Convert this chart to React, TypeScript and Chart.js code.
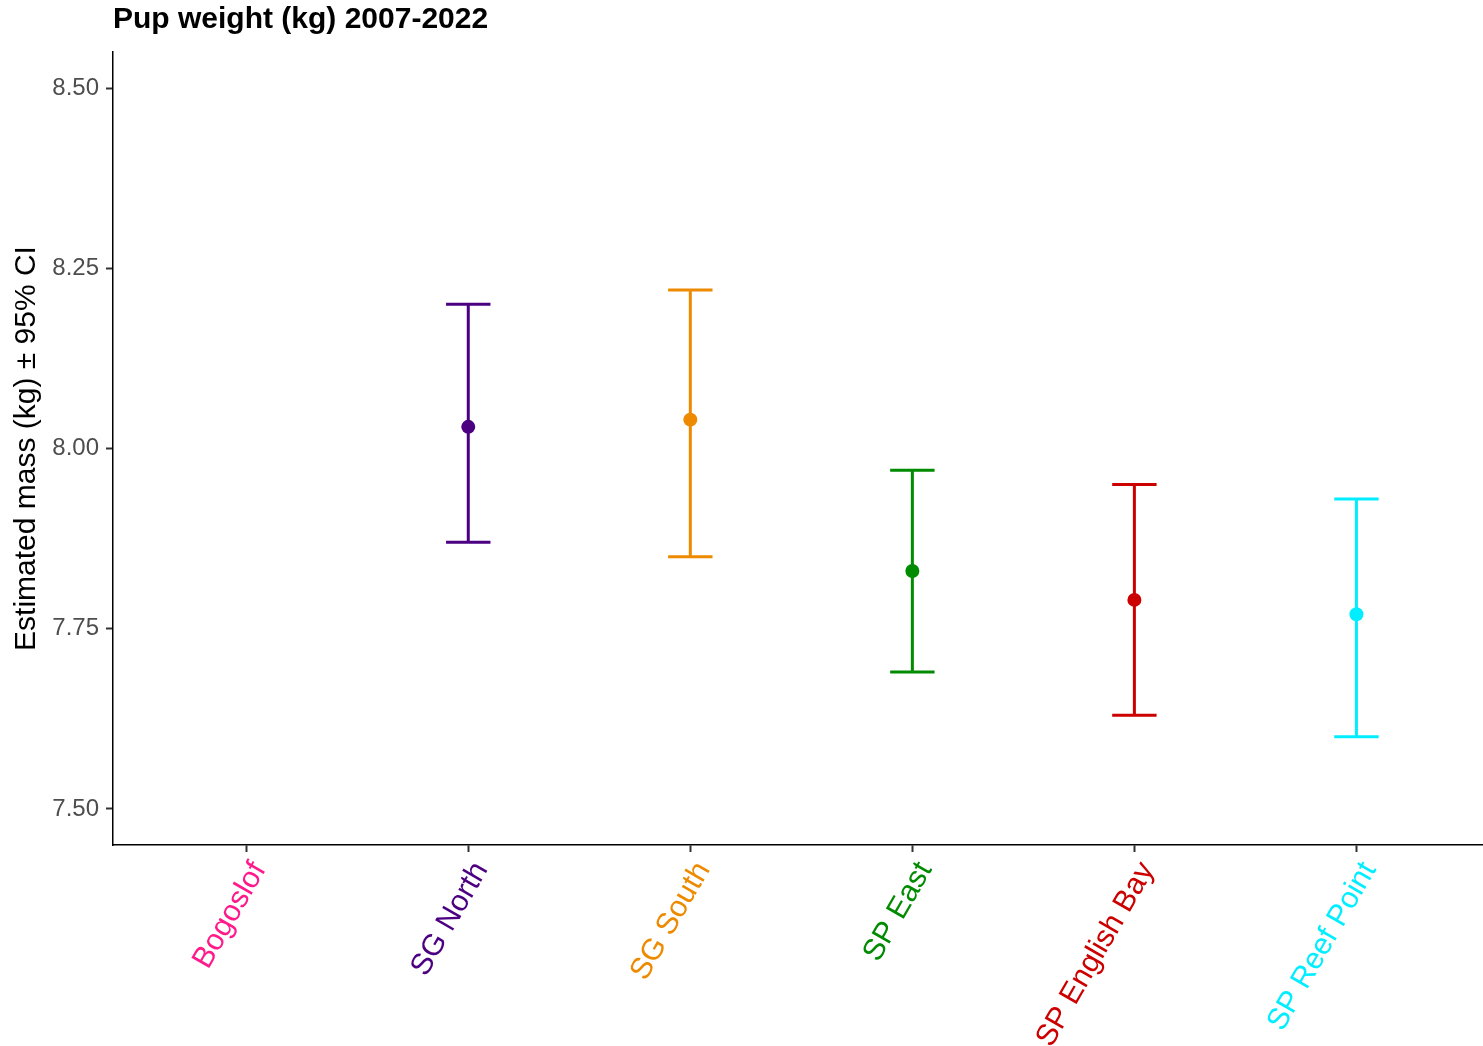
import React, { useEffect, useRef } from "react";
import { Chart, registerables } from "chart.js";

Chart.register(...registerables);

// Rookery sites along the x axis
const sites = ["Bogoslof", "SG North", "SG South", "SP East", "SP English Bay", "SP Reef Point"];
// Estimated mean pup mass (kg); Bogoslof has no estimate
const meanMass: (number | null)[] = [null, 8.03, 8.04, 7.83, 7.79, 7.77];
// 95% confidence limits (kg)
const lowerCI: (number | null)[] = [null, 7.87, 7.85, 7.69, 7.63, 7.6];
const upperCI: (number | null)[] = [null, 8.2, 8.22, 7.97, 7.95, 7.93];
// One colour per site, used for marks and tick labels
const siteColors = ["#FF1A8C", "#4B0082", "#EE8A00", "#008B00", "#CD0000", "#00EEFF"];
// Y axis tick values
const yTicks = [7.5, 7.75, 8.0, 8.25, 8.5];

const FONT = "'Liberation Sans', Arial, Helvetica, sans-serif";

const errorBarPlugin = {
  id: "errorBars",
  beforeDatasetsDraw(chart: any) {
    const { ctx, scales } = chart;
    const xs = scales.x;
    const ys = scales.y;
    ctx.save();
    ctx.lineWidth = 3;
    for (let i = 0; i < sites.length; i++) {
      const lo = lowerCI[i];
      const hi = upperCI[i];
      if (lo == null || hi == null) continue;
      const x = xs.getPixelForValue(i);
      const yLo = ys.getPixelForValue(lo);
      const yHi = ys.getPixelForValue(hi);
      const half = xs.getPixelForValue(i + 0.1) - x;
      ctx.strokeStyle = siteColors[i];
      ctx.beginPath();
      ctx.moveTo(x, yLo);
      ctx.lineTo(x, yHi);
      ctx.moveTo(x - half, yLo);
      ctx.lineTo(x + half, yLo);
      ctx.moveTo(x - half, yHi);
      ctx.lineTo(x + half, yHi);
      ctx.stroke();
    }
    ctx.restore();
  },
};

export default function App() {
  const canvasRef = useRef<HTMLCanvasElement | null>(null);

  useEffect(() => {
    const canvas = canvasRef.current;
    if (!canvas) return;

    const points: { x: number; y: number }[] = [];
    const pointColors: string[] = [];
    meanMass.forEach((m, i) => {
      if (m != null) {
        points.push({ x: i, y: m });
        pointColors.push(siteColors[i]);
      }
    });

    const chart = new Chart(canvas, {
      type: "scatter",
      data: {
        datasets: [
          {
            data: points,
            pointRadius: 7,
            pointHoverRadius: 7,
            pointBackgroundColor: pointColors,
            pointBorderWidth: 0,
            pointBorderColor: pointColors,
          },
        ],
      },
      options: {
        responsive: false,
        animation: false,
        layout: { padding: 0, autoPadding: false },
        plugins: {
          legend: { display: false },
          tooltip: { enabled: false },
          title: {
            display: true,
            text: "Pup weight (kg) 2007-2022",
            align: "start",
            fullSize: false,
            color: "#000000",
            font: { family: FONT, size: 30, weight: "bold" },
            padding: { top: 2, bottom: 14 },
          },
        },
        scales: {
          x: {
            type: "linear",
            min: -0.6,
            max: 5.57,
            afterBuildTicks(scale: any) {
              scale.ticks = sites.map((_, i) => ({ value: i }));
            },
            afterFit(scale: any) {
              scale.height = 201;
              scale.paddingRight = 0;
              scale.paddingLeft = 0;
            },
            ticks: {
              autoSkip: false,
              minRotation: 60,
              maxRotation: 60,
              padding: 4,
              labelOffset: 13,
              font: { family: FONT, size: 30 },
              color: (ctx: any) => siteColors[ctx.tick ? ctx.tick.value : ctx.index] || "#000",
              callback: (v: any) => sites[v as number] ?? "",
            },
            grid: {
              drawOnChartArea: false,
              drawTicks: true,
              tickLength: 7,
              tickWidth: 2,
              tickColor: "#333333",
            },
            border: { display: true, color: "#000000", width: 1.5 },
          },
          y: {
            min: 7.45,
            max: 8.55,
            afterBuildTicks(scale: any) {
              scale.ticks = yTicks.map((v) => ({ value: v }));
            },
            afterFit(scale: any) {
              scale.width = 113;
            },
            ticks: {
              padding: 7,
              font: { family: FONT, size: 24 },
              color: "#4D4D4D",
              callback: (v: any) => Number(v).toFixed(2),
            },
            grid: {
              drawOnChartArea: false,
              drawTicks: true,
              tickLength: 7,
              tickWidth: 2,
              tickColor: "#333333",
            },
            border: { display: true, color: "#000000", width: 1.5 },
            title: {
              display: true,
              text: "Estimated mass (kg) ± 95% CI",
              color: "#000000",
              font: { family: FONT, size: 30 },
              padding: { top: 9, bottom: 0 },
            },
          },
        },
      },
      plugins: [errorBarPlugin],
    });

    return () => chart.destroy();
  }, []);

  return (
    <div style={{ position: "fixed", left: 0, top: 0, width: 1483, height: 1046, background: "#ffffff" }}>
      <canvas ref={canvasRef} width={1483} height={1046} style={{ display: "block" }} />
    </div>
  );
}
